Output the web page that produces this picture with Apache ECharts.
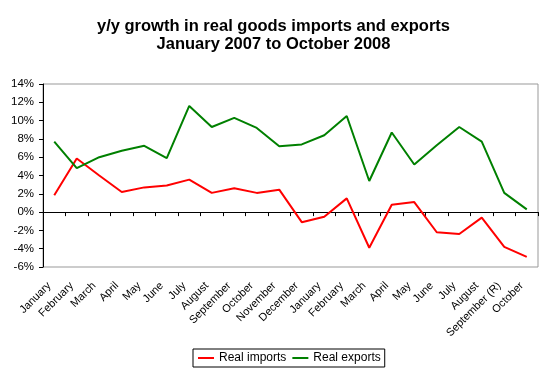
<!DOCTYPE html>
<html><head><meta charset="utf-8">
<script src="https://cdn.jsdelivr.net/npm/echarts@6/dist/echarts.min.js"></script>
<style>html,body{margin:0;padding:0;background:#fff}#c{width:547px;height:374px}</style>
</head><body><div id="c"></div>
<script>
var categories = ['January','February','March','April','May','June','July','August','September','October','November','December','January','February','March','April','May','June','July','August','September (R)','October'];
var realImports = [1.85,5.85,4.0,2.2,2.7,2.9,3.55,2.1,2.6,2.1,2.45,-1.1,-0.5,1.5,-3.9,0.8,1.1,-2.2,-2.4,-0.6,-3.8,-4.9];
var realExports = [7.7,4.8,6.0,6.7,7.25,5.9,11.6,9.3,10.3,9.2,7.2,7.4,8.4,10.5,3.4,8.7,5.2,7.3,9.3,7.7,2.1,0.3];
var yTicks = {min:-6, max:14, interval:2};

var chart = echarts.init(document.getElementById('c'));
var font = 'Arial, "Liberation Sans", sans-serif';
chart.setOption({
  animation:false,
  title:{text:'y/y growth in real goods imports and exports\nJanuary 2007 to October 2008', left:'center', top:12,
    textStyle:{fontFamily:font, fontSize:16.5, fontWeight:'bold', color:'#000', lineHeight:18.5}},
  legend:{left:193, top:349, orient:'horizontal', borderColor:'#000', borderWidth:1, padding:[3,4,3,5],
    icon:'rect', itemWidth:16, itemHeight:2, itemGap:6,
    textStyle:{fontFamily:font, fontSize:12, color:'#000'}},
  grid:{left:43, right:9, top:84, bottom:107, show:true, borderColor:'#999', borderWidth:1},
  xAxis:[{type:'category', data:categories, boundaryGap:true,
      axisLine:{onZero:true, lineStyle:{color:'#000', width:1}},
      axisTick:{show:true, interval:0, lineStyle:{color:'#000'}, length:4},
      axisLabel:{show:false}, splitLine:{show:false}},
    {type:'category', data:categories, position:'bottom', boundaryGap:true,
      axisLine:{show:false}, axisTick:{show:false},
      axisLabel:{rotate:45, interval:0, margin:12, padding:[0,7,0,0], fontFamily:font, fontSize:11, color:'#000'}}],
  yAxis:{type:'value', min:yTicks.min, max:yTicks.max, interval:yTicks.interval,
    axisLine:{show:true, lineStyle:{color:'#000'}}, axisTick:{show:true, length:4, lineStyle:{color:'#000'}},
    splitLine:{show:false},
    axisLabel:{formatter:'{value}%', fontFamily:font, fontSize:11.5, color:'#000', margin:9}},
  series:[
    {name:'Real imports', type:'line', data:realImports, symbol:'none', lineStyle:{color:'#ff0000', width:2}, itemStyle:{color:'#ff0000'}},
    {name:'Real exports', type:'line', data:realExports, symbol:'none', lineStyle:{color:'#008000', width:2}, itemStyle:{color:'#008000'}}
  ]
});
</script></body></html>
